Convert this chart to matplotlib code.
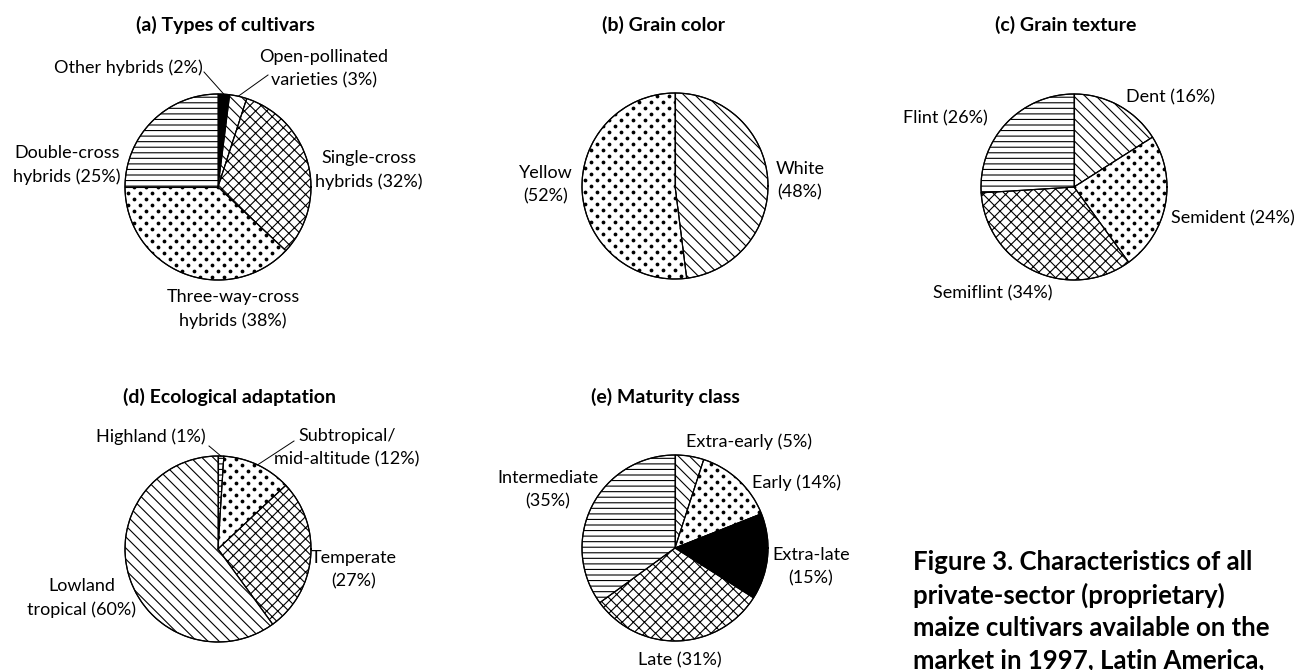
import numpy as np
import matplotlib
matplotlib.use("Agg")
import matplotlib.pyplot as plt

plt.rcParams['font.family'] = ['Lato', 'DejaVu Sans']
plt.rcParams['hatch.linewidth'] = 0.8

# ---------------- data ----------------
a_labels = ["Other hybrids (2%)", "Open-pollinated\nvarieties (3%)", "Single-cross\nhybrids (32%)",
            "Three-way-cross\nhybrids (38%)", "Double-cross\nhybrids (25%)"]
a_values = [2, 3, 32, 38, 25]
a_fills = ["black", "diag", "cross", "dots", "horiz"]

b_labels = ["White\n(48%)", "Yellow\n(52%)"]
b_values = [48, 52]
b_fills = ["diag", "dots"]

c_labels = ["Dent (16%)", "Semident (24%)", "Semiflint (34%)", "Flint (26%)"]
c_values = [16, 24, 34, 26]
c_fills = ["diag", "dots", "cross", "horiz"]

d_labels = ["Highland (1%)", "Subtropical/\nmid-altitude (12%)", "Temperate\n(27%)", "Lowland\ntropical (60%)"]
d_values = [1, 12, 27, 60]
d_fills = ["horiz", "dots", "cross", "diag"]

e_labels = ["Extra-early (5%)", "Early (14%)", "Extra-late\n(15%)", "Late (31%)", "Intermediate\n(35%)"]
e_values = [5, 14, 15, 31, 35]
e_fills = ["diag", "dots", "black", "cross", "horiz"]

titles = ["(a) Types of cultivars", "(b) Grain color", "(c) Grain texture",
          "(d) Ecological adaptation", "(e) Maturity class"]
caption = ("Figure 3. Characteristics of all\nprivate-sector (proprietary)\n"
           "maize cultivars available on the\nmarket in 1997, Latin America,")

# ---------------- layout (pixels) ----------------
W, H = 1297, 670
R = 93
FS = 13
TFS = 14

fig = plt.figure(figsize=(W / 100, H / 100), dpi=100)


def make_ax(cx, cy):
    return fig.add_axes([(cx - R) / W, (H - cy - R) / H, 2 * R / W, 2 * R / H])


def px(ax_c, x, y):
    """pixel position -> data coords of a pie axes centred at ax_c"""
    cx, cy = ax_c
    return (x - cx) / R, (cy - y) / R


def dot_fill(ax, wedge):
    row = 6.0 / R
    col = 12.0 / R
    ys = np.arange(-1.1, 1.1, row)
    X, Y = [], []
    for i, y in enumerate(ys):
        off = 0.0 if i % 2 == 0 else col / 2
        xs = np.arange(-1.1 + off, 1.1, col)
        X.extend(xs)
        Y.extend([y] * len(xs))
    sc = ax.scatter(X, Y, s=7.5, c='black', marker='o', linewidths=0, zorder=3)
    sc.set_clip_path(wedge)


def draw_pie(center, values, fills, title, title_pos, label_pos, leaders=None):
    ax = make_ax(*center)
    wedges, _ = ax.pie(values, startangle=90, counterclock=False, radius=1,
                       wedgeprops=dict(edgecolor='black', linewidth=0.8, facecolor='white'))
    ax.set_xlim(-1, 1)
    ax.set_ylim(-1, 1)
    ax.set_aspect('equal')
    ax.axis('off')
    for w, f in zip(wedges, fills):
        w.set_zorder(2)
        if f == "black":
            w.set_facecolor('black')
        elif f == "diag":
            w.set_hatch('\\\\\\')
        elif f == "cross":
            w.set_hatch('xxx')
        elif f == "horiz":
            w.set_hatch('---')
        elif f == "dots":
            dot_fill(ax, w)
    for w in wedges:
        th1 = np.deg2rad(w.theta1)
        ax.plot([0, np.cos(th1)], [0, np.sin(th1)], color='black', lw=0.8, zorder=4,
                clip_on=False)
    t = np.linspace(0, 2 * np.pi, 400)
    ax.plot(np.cos(t), np.sin(t), color='black', lw=0.9, zorder=4, clip_on=False)

    tx, ty = px(center, *title_pos)
    ax.text(tx, ty, title, ha='center', va='center', fontsize=TFS, fontweight='bold')
    for lab, (x, y, ha) in label_pos.items():
        lx, ly = px(center, x, y)
        ax.text(lx, ly, lab, ha=ha, va='center', fontsize=FS, linespacing=1.55,
                multialignment='center')
    if leaders:
        for idx, (sx, sy) in leaders.items():
            w = wedges[idx]
            mid = np.deg2rad((w.theta1 + w.theta2) / 2)
            lx, ly = px(center, sx, sy)
            ax.plot([lx, np.cos(mid)], [ly, np.sin(mid)], color='black', lw=0.7,
                    zorder=5, clip_on=False)
    return ax


# (a)
draw_pie((218, 187), a_values, a_fills, titles[0], (225, 25),
         {a_labels[0]: (203, 68, 'right'), a_labels[1]: (324, 69, 'center'),
          a_labels[2]: (369, 170, 'center'), a_labels[3]: (233, 309, 'center'),
          a_labels[4]: (67, 165, 'center')},
         leaders={0: (204, 72), 1: (268, 75)})
# (b)
draw_pie((675, 186), b_values, b_fills, titles[1], (663, 25),
         {b_labels[0]: (800, 181, 'center'), b_labels[1]: (546, 185, 'center')})
# (c)
draw_pie((1074, 187), c_values, c_fills, titles[2], (1066, 25),
         {c_labels[0]: (1170, 97, 'center'), c_labels[1]: (1233, 218, 'center'),
          c_labels[2]: (993, 293, 'center'), c_labels[3]: (945, 118, 'center')})
# (d)
draw_pie((218, 549), d_values, d_fills, titles[3], (230, 397),
         {d_labels[0]: (206, 437, 'right'), d_labels[1]: (347, 448, 'center'),
          d_labels[2]: (354, 570, 'center'), d_labels[3]: (82, 598, 'center')},
         leaders={0: (209, 446), 1: (294, 441)})
# (e)
draw_pie((675, 548), e_values, e_fills, titles[4], (665, 397),
         {e_labels[0]: (686, 442, 'left'), e_labels[1]: (797, 483, 'center'),
          e_labels[2]: (811, 567, 'center'), e_labels[3]: (680, 660, 'center'),
          e_labels[4]: (548, 490, 'center')})

fig.text(913 / W, (H - 550) / H, caption, ha='left', va='top', fontsize=18.5,
         fontweight='bold', linespacing=1.4)

fig.savefig('out.png', dpi=100)
